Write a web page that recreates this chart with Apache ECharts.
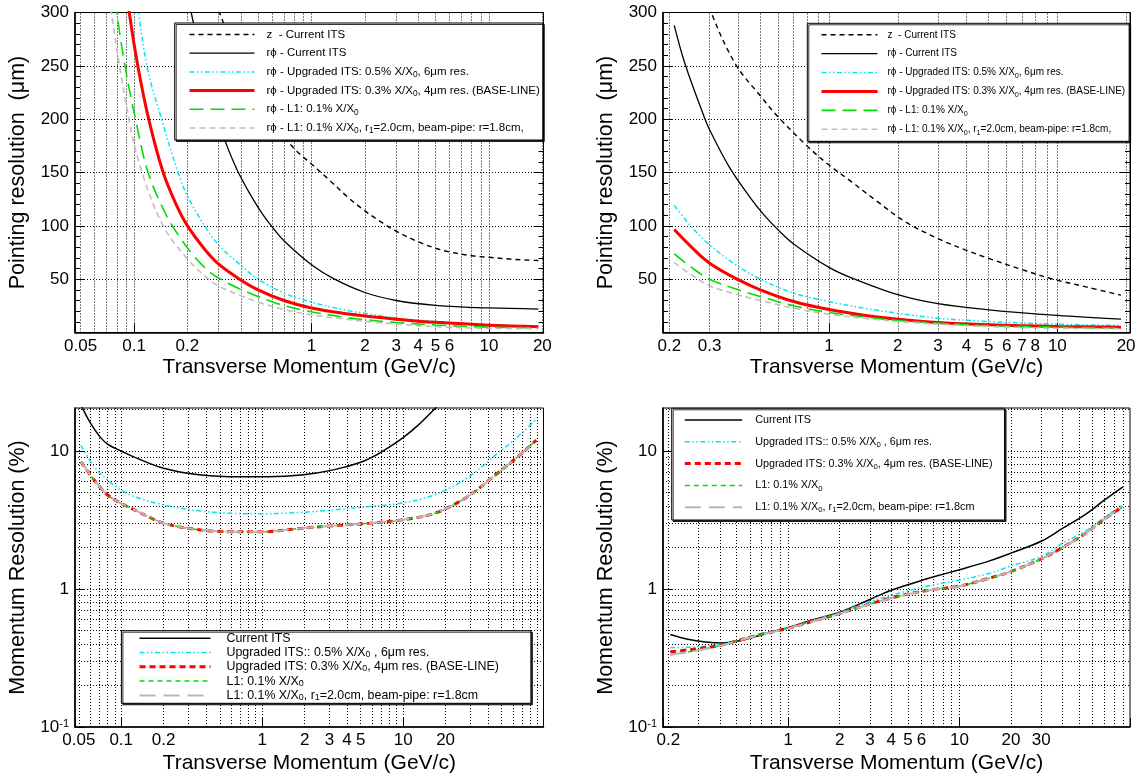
<!DOCTYPE html>
<html><head><meta charset="utf-8">
<script src="https://cdn.jsdelivr.net/npm/echarts@6.0.0/dist/echarts.min.js"></script>
<style>html,body{margin:0;padding:0;background:#fff}#c{width:1141px;height:776px}</style>
</head><body><div id="c"></div>
<script>
// ================= DATA =================
// --- Panel 1 : pointing resolution, top-left ---
const P1_X_Z     = [0.28, 0.303, 0.4, 0.5, 0.6, 0.726, 0.85, 1, 1.26, 1.6, 2, 2.5, 3, 4, 5, 6, 8, 10, 14, 19];
const P1_Y_Z     = [318, 300, 250, 219, 197, 180, 168, 158, 143, 127, 114, 103, 95, 85, 79, 75.5, 72, 70.5, 68.5, 67.5];
const P1_X_CUR   = [0.19, 0.21, 0.25, 0.318, 0.375, 0.45, 0.53, 0.6, 0.7, 1, 1.35, 2, 3, 5, 10, 19];
const P1_Y_CUR   = [345, 300, 245, 185, 155, 130, 111, 99, 86, 63.5, 50, 37.5, 30, 25.5, 23, 22];
const P1_X_UP05  = [0.1, 0.106, 0.12, 0.143, 0.177, 0.2, 0.25, 0.3, 0.4, 0.5, 0.7, 1, 1.5, 2, 3, 5, 10, 19];
const P1_Y_UP05  = [335, 300, 245, 200, 150, 128, 100, 82, 63, 50, 37, 28.5, 21.5, 18, 13.5, 10.3, 7.2, 6];
const P1_X_UP03  = [0.085, 0.094, 0.105, 0.121, 0.146, 0.175, 0.2, 0.25, 0.3, 0.393, 0.5, 0.7, 1, 1.5, 2, 3, 5, 10, 19];
const P1_Y_UP03  = [360, 300, 250, 200, 150, 118, 100, 78, 64, 50, 40, 30, 23, 18, 15.5, 12.5, 9.5, 6.8, 5.5];
const P1_X_L1    = [0.072, 0.08, 0.09, 0.102, 0.12, 0.152, 0.18, 0.219, 0.266, 0.316, 0.392, 0.487, 0.63, 0.89, 1.5, 2, 3, 5, 10, 19];
const P1_Y_L1    = [370, 300, 245, 200, 150, 110, 90, 71, 57, 49, 41, 34.5, 27.5, 21, 14.5, 12, 9.4, 7, 5, 4.4];
const P1_X_L1BP  = [0.068, 0.0746, 0.0935, 0.111, 0.146, 0.2, 0.263, 0.3, 0.4, 0.5, 0.7, 1, 1.5, 2, 3, 5, 10, 19];
const P1_Y_L1BP  = [360, 300, 200, 150, 100, 69, 50, 43.5, 34.5, 28.5, 21.5, 16.6, 12.8, 10.5, 8, 5.5, 3.9, 3.6];

// --- Panel 2 : pointing resolution, top-right ---
const P2_X_Z     = [0.28, 0.305, 0.391, 0.5, 0.593, 0.8, 1, 1.26, 1.6, 2.15, 3, 4, 5, 7, 9.4, 13.5, 19];
const P2_Y_Z     = [330, 300, 251, 222, 203, 175, 157, 141, 124, 104, 88, 77, 69.5, 59, 50.5, 42.5, 35];
const P2_X_CUR   = [0.21, 0.234, 0.283, 0.3, 0.366, 0.45, 0.52, 0.6, 0.7, 1, 1.26, 2, 3, 5, 10, 19];
const P2_Y_CUR   = [288, 252, 203, 190, 155, 127, 110, 96, 83, 61, 51, 35.5, 27, 21.3, 16, 12.5];
const P2_X       = [0.21, 0.25, 0.3, 0.4, 0.5, 0.7, 1, 1.5, 2, 3, 5, 10, 19];
const P2_Y_UP05  = [119, 99, 82, 62, 50, 37, 29, 22, 18, 13.4, 10.3, 7.8, 6.6];
const P2_Y_UP03  = [96.5, 80, 65, 49.5, 40, 29, 21.5, 15.5, 12.5, 9.4, 7.2, 5.6, 5];
const P2_Y_L1    = [73.8, 61, 50, 40, 33.8, 25, 18.8, 14, 11.3, 8.8, 6.3, 5, 4.1];
const P2_Y_L1BP  = [65.6, 54, 43.8, 35.3, 30, 22.8, 17.2, 12.8, 10.3, 7.8, 5.6, 4, 3.4];

// --- Panel 3 : momentum resolution, bottom-left ---
const P3_X_CUR   = [0.05, 0.053, 0.058, 0.064, 0.072, 0.08, 0.09, 0.1, 0.125, 0.2, 0.37, 0.7, 1.1, 1.9, 3.2, 5, 6.5, 8, 10, 12.6, 17, 20];
const P3_Y_CUR   = [23, 20.5, 17.2, 14.6, 12.4, 11.2, 10.5, 10, 9, 7.5, 6.7, 6.5, 6.5, 6.7, 7.3, 8.3, 9.4, 10.7, 12.5, 15.2, 20.5, 24];
const P3_X       = [0.0518, 0.0643, 0.08, 0.0996, 0.124, 0.202, 0.367, 0.633, 1, 1.88, 3.24, 5.6, 9.62, 16.6, 28.6, 46.7, 60, 70, 88];
const P3_Y_UP05  = [11.0, 7.7, 6.17, 5.21, 4.67, 4.06, 3.67, 3.53, 3.51, 3.59, 3.74, 3.95, 4.18, 4.8, 6.4, 9.6, 11.8, 13.6, 17];
const P3_Y_UP03  = [8.37, 6.17, 4.8, 4.18, 3.74, 2.99, 2.68, 2.6, 2.6, 2.75, 2.88, 2.99, 3.16, 3.53, 4.67, 6.9, 8.5, 9.7, 12];
const P3_Y_L1    = [8.37, 6.17, 4.8, 4.18, 3.74, 2.99, 2.68, 2.6, 2.6, 2.75, 2.88, 2.99, 3.16, 3.53, 4.67, 6.9, 8.5, 9.7, 12];
const P3_Y_L1BP  = [8.37, 6.17, 4.8, 4.18, 3.74, 2.99, 2.68, 2.6, 2.6, 2.75, 2.88, 2.99, 3.16, 3.53, 4.67, 6.9, 8.5, 9.7, 12];

// --- Panel 4 : momentum resolution, bottom-right ---
const P4_X_CUR   = [0.205, 0.26, 0.33, 0.41, 0.51, 0.64, 0.8, 1, 1.4, 2, 3, 4, 5.7, 7, 10, 15, 20, 30, 40, 55, 70, 90];
const P4_Y_CUR   = [0.468, 0.432, 0.413, 0.406, 0.42, 0.451, 0.49, 0.525, 0.6, 0.68, 0.84, 0.98, 1.13, 1.22, 1.38, 1.6, 1.82, 2.22, 2.75, 3.5, 4.4, 5.5];
const P4_X       = [0.205, 0.26, 0.3, 0.4, 0.5, 0.7, 1, 1.5, 2, 3, 4, 5, 7, 10, 15, 20, 30, 40, 55, 70, 90];
const P4_Y_UP05  = [0.376, 0.378, 0.382, 0.398, 0.425, 0.475, 0.525, 0.61, 0.68, 0.81, 0.9, 0.97, 1.07, 1.16, 1.3, 1.47, 1.72, 2.15, 2.65, 3.3, 4.1];
const P4_Y_UP03  = [0.351, 0.362, 0.37, 0.39, 0.42, 0.47, 0.52, 0.6, 0.665, 0.78, 0.86, 0.92, 0.99, 1.05, 1.2, 1.34, 1.65, 2.0, 2.55, 3.2, 3.95];
const P4_Y_L1    = [0.335, 0.35, 0.362, 0.388, 0.42, 0.47, 0.52, 0.6, 0.665, 0.78, 0.86, 0.92, 0.99, 1.05, 1.2, 1.34, 1.65, 2.0, 2.55, 3.2, 3.95];
const P4_Y_L1BP  = [0.333, 0.348, 0.36, 0.387, 0.418, 0.468, 0.518, 0.598, 0.663, 0.778, 0.858, 0.918, 0.988, 1.048, 1.198, 1.338, 1.648, 1.998, 2.548, 3.198, 3.948];

// --- tick labels ---
const P1_XTICKS = [0.05, 0.1, 0.2, 1, 2, 3, 4, 5, 6, 10, 20];
const P2_XTICKS = [0.2, 0.3, 1, 2, 3, 4, 5, 6, 7, 8, 10, 20];
const P3_XTICKS = [0.05, 0.1, 0.2, 1, 2, 3, 4, 5, 10, 20];
const P4_XTICKS = [0.2, 1, 2, 3, 4, 5, 6, 10, 20, 30];

// --- names ---
const TOP_NAMES = ['z  - Current ITS', 'rϕ - Current ITS', 'rϕ - Upgraded ITS: 0.5% X/X0, 6μm res.',
  'rϕ - Upgraded ITS: 0.3% X/X0, 4μm res. (BASE-LINE)', 'rϕ - L1: 0.1% X/X0', 'rϕ - L1: 0.1% X/X0, r1=2.0cm, beam-pipe: r=1.8cm,'];
const BOT_NAMES = ['Current ITS', 'Upgraded ITS:: 0.5% X/X0 , 6μm res.', 'Upgraded ITS: 0.3% X/X0, 4μm res. (BASE-LINE)',
  'L1: 0.1% X/X0', 'L1: 0.1% X/X0, r1=2.0cm, beam-pipe: r=1.8cm'];
const RICH = {};
RICH[TOP_NAMES[0]] = 'z  - Current ITS';
RICH[TOP_NAMES[1]] = 'rϕ - Current ITS';
RICH[TOP_NAMES[2]] = 'rϕ - Upgraded ITS: 0.5% X/X{sub|0}, 6μm res.';
RICH[TOP_NAMES[3]] = 'rϕ - Upgraded ITS: 0.3% X/X{sub|0}, 4μm res. (BASE-LINE)';
RICH[TOP_NAMES[4]] = 'rϕ - L1: 0.1% X/X{sub|0}';
RICH[TOP_NAMES[5]] = 'rϕ - L1: 0.1% X/X{sub|0}, r{sub|1}=2.0cm, beam-pipe: r=1.8cm,';
RICH[BOT_NAMES[0]] = 'Current ITS';
RICH[BOT_NAMES[1]] = 'Upgraded ITS:: 0.5% X/X{sub|0} , 6μm res.';
RICH[BOT_NAMES[2]] = 'Upgraded ITS: 0.3% X/X{sub|0}, 4μm res. (BASE-LINE)';
RICH[BOT_NAMES[3]] = 'L1: 0.1% X/X{sub|0}';
RICH[BOT_NAMES[4]] = 'L1: 0.1% X/X{sub|0}, r{sub|1}=2.0cm, beam-pipe: r=1.8cm';

// ================= STYLE / LAYOUT =================
const FONT = '"Liberation Sans", Arial, Helvetica, sans-serif';
const ST = {
  zdash: {color:'#000', width:1.4, type:[5,4]},
  black: {color:'#000', width:1.3, type:'solid'},
  cyan:  {color:'#00e6f0', width:1.5, type:[5,2.5,1.5,2.5,1.5,2.5]},
  red:   {color:'#ff0000', width:3, type:'solid'},
  green: {color:'#00dd00', width:1.6, type:[14,7]},
  grey:  {color:'#bfbfbf', width:1.6, type:[6,4]},
  bblack:{color:'#000', width:1.5, type:'solid'},
  bred:  {color:'#ff0000', width:3, type:[6,4]},
  bgreen:{color:'#00dd00', width:1.5, type:[5,4]},
  bgrey: {color:'#b8b8b8', width:2, type:[16,8]}
};
const GRIDS = [
  {left:75, top:12.5, width:468.5, height:320},
  {left:663, top:12.5, width:467, height:320},
  {left:75, top:408, width:468.5, height:319},
  {left:663, top:408, width:467, height:319}
];
const XR = [[0.0465, 20.3], [0.1875, 20.8], [0.047, 99], [0.186, 99]];

function pairs(xs, ys){ return xs.map((x,i)=>[x, ys[i]]); }
function mk(name, xs, ys, g, st){
  return {type:'line', name, xAxisIndex:g, yAxisIndex:g, data:pairs(xs, ys), symbol:'none', showSymbol:false,
    smooth:0.35, lineStyle:st, itemStyle:{color:st.color}, z:3, silent:true, clip:true, emphasis:{disabled:true}};
}
function gridSeries(g, labels, withH, dummy){
  const [xmin, xmax] = XR[g];
  const data = [];
  for (const d of [0.01, 0.1, 1, 10]) for (let k=1; k<=9; k++){
    const v = +(k*d).toPrecision(6);
    if (v > xmin*1.001 && v < xmax*0.999){
      const lab = labels.find(l => Math.abs(l - v) < 1e-9);
      if (lab !== undefined) data.push({xAxis:v, label:{show:true, position:'start', distance:5, formatter:String(lab),
        fontSize:17, color:'#000', fontFamily:FONT}});
      else data.push({xAxis:v});
    }
  }
  if (withH){
    for (const d of [0.1, 1, 10]) for (let k=1; k<=9; k++){
      const v = +(k*d).toPrecision(6);
      if (v > 0.1001 && v < 20.4) data.push({yAxis:v});
    }
  }
  return {type:'line', xAxisIndex:g, yAxisIndex:g, data:[dummy], symbol:'none', lineStyle:{opacity:0}, silent:true, z:1,
    markLine:{silent:true, z:1, symbol:['none','none'], animation:false, label:{show:false}, emphasis:{disabled:true},
      lineStyle:{color:'#000', type:[1,2], width:1}, data}};
}

const series = [
  gridSeries(0, P1_XTICKS, false, [1, 150]),
  gridSeries(1, P2_XTICKS, false, [1, 150]),
  gridSeries(2, P3_XTICKS, true, [1, 1]),
  gridSeries(3, P4_XTICKS, true, [1, 1]),
  mk(TOP_NAMES[0], P1_X_Z, P1_Y_Z, 0, ST.zdash),
  mk(TOP_NAMES[1], P1_X_CUR, P1_Y_CUR, 0, ST.black),
  mk(TOP_NAMES[2], P1_X_UP05, P1_Y_UP05, 0, ST.cyan),
  mk(TOP_NAMES[3], P1_X_UP03, P1_Y_UP03, 0, ST.red),
  mk(TOP_NAMES[4], P1_X_L1, P1_Y_L1, 0, ST.green),
  mk(TOP_NAMES[5], P1_X_L1BP, P1_Y_L1BP, 0, ST.grey),
  mk(TOP_NAMES[0], P2_X_Z, P2_Y_Z, 1, ST.zdash),
  mk(TOP_NAMES[1], P2_X_CUR, P2_Y_CUR, 1, ST.black),
  mk(TOP_NAMES[2], P2_X, P2_Y_UP05, 1, ST.cyan),
  mk(TOP_NAMES[3], P2_X, P2_Y_UP03, 1, ST.red),
  mk(TOP_NAMES[4], P2_X, P2_Y_L1, 1, ST.green),
  mk(TOP_NAMES[5], P2_X, P2_Y_L1BP, 1, ST.grey),
  mk(BOT_NAMES[0], P3_X_CUR, P3_Y_CUR, 2, ST.bblack),
  mk(BOT_NAMES[1], P3_X, P3_Y_UP05, 2, ST.cyan),
  mk(BOT_NAMES[2], P3_X, P3_Y_UP03, 2, ST.bred),
  mk(BOT_NAMES[3], P3_X, P3_Y_L1, 2, ST.bgreen),
  mk(BOT_NAMES[4], P3_X, P3_Y_L1BP, 2, ST.bgrey),
  mk(BOT_NAMES[0], P4_X_CUR, P4_Y_CUR, 3, ST.bblack),
  mk(BOT_NAMES[1], P4_X, P4_Y_UP05, 3, ST.cyan),
  mk(BOT_NAMES[2], P4_X, P4_Y_UP03, 3, ST.bred),
  mk(BOT_NAMES[3], P4_X, P4_Y_L1, 3, ST.bgreen),
  mk(BOT_NAMES[4], P4_X, P4_Y_L1BP, 3, ST.bgrey)
];

const xAxis = GRIDS.map((g, i) => ({
  type:'log', gridIndex:i, logBase:10, min:XR[i][0], max:XR[i][1],
  axisLabel:{show:false}, splitLine:{show:false},
  axisTick:{show:true, inside:true, length:9, lineStyle:{color:'#000', width:1}},
  axisLine:{show:true, onZero:false, lineStyle:{color:'#000', width:1.6}},
  name:'Transverse Momentum (GeV/c)', nameLocation:'middle', nameGap: i < 2 ? 24 : 26,
  nameTextStyle:{fontSize:21, color:'#000', fontFamily:FONT}
}));

const topY = i => ({
  type:'value', gridIndex:i, min:0, max:300, interval:50,
  axisLabel:{fontSize:17, color:'#000', margin:6, fontFamily:FONT, formatter: v => v === 0 ? '' : String(v)},
  axisTick:{show:true, inside:true, length:10, lineStyle:{color:'#000'}},
  minorTick:{show:true, splitNumber:5, length:5, lineStyle:{color:'#000'}},
  splitLine:{show:true, lineStyle:{color:'#000', type:[1,2], width:1}},
  axisLine:{show:true, onZero:false, lineStyle:{color:'#000', width:1.6}},
  name:'Pointing resolution  (μm)', nameLocation:'middle', nameRotate:90, nameGap:46,
  nameTextStyle:{fontSize:21.5, color:'#000', fontFamily:FONT}
});
const botY = i => ({
  type:'log', gridIndex:i, logBase:10, min:0.1, max:20.5,
  axisLabel:{fontSize:17, color:'#000', margin:6, fontFamily:FONT, showMaxLabel:false,
    formatter: v => { const l = Math.log10(v); if (Math.abs(l+1) < 1e-6) return '10{sup|-1}'; if (Math.abs(l) < 1e-6) return '1'; if (Math.abs(l-1) < 1e-6) return '10'; return ''; },
    rich:{sup:{fontSize:11, verticalAlign:'top', lineHeight:8, color:'#000', fontFamily:FONT}}},
  axisTick:{show:true, inside:true, length:10, lineStyle:{color:'#000'}},
  splitLine:{show:false},
  axisLine:{show:true, onZero:false, lineStyle:{color:'#000', width:1.6}},
  name:'Momentum Resolution (%)', nameLocation:'middle', nameRotate:90, nameGap:46,
  nameTextStyle:{fontSize:21.5, color:'#000', fontFamily:FONT}
});
const rightY = i => ({
  type:'value', gridIndex:i, min:0, max:300, interval:50, position:'right',
  axisLabel:{show:false}, splitLine:{show:false},
  axisTick:{show:true, inside:true, length:10, lineStyle:{color:'#000'}},
  minorTick:{show:true, splitNumber:5, length:5, lineStyle:{color:'#000'}},
  axisLine:{show:true, onZero:false, lineStyle:{color:'#000', width:1}}
});
const yAxis = [topY(0), topY(1), botY(2), botY(3), rightY(0), rightY(1)];

function legend(names, o){
  return {
    data:names, orient:'vertical', left:o.left, top:o.top, itemWidth:o.iw, itemHeight:o.ih, itemGap:o.gap,
    padding:o.pad, backgroundColor:'#fff', borderColor:'#000', borderWidth:1, z:10,
    shadowColor:'rgba(0,0,0,0.8)', shadowBlur:0, shadowOffsetX:1.5, shadowOffsetY:1.5,
    selectedMode:false,
    itemStyle:{opacity:0, borderWidth:0},
    lineStyle:{width:'inherit', opacity:1},
    formatter: n => '{g| }' + (RICH[n] || n),
    textStyle:{fontSize:o.fs, lineHeight:o.lh, color:'#000', fontFamily:FONT,
      rich:{g:{width:o.sp}, sub:{fontSize:o.fs*0.72, lineHeight:4, verticalAlign:'bottom', color:'#000', fontFamily:FONT}}}
  };
}
const legends = [
  legend(TOP_NAMES, {left:174.7, top:23, iw:65, ih:14, gap:4.7, pad:[4.5,3,5,13.3], fs:11.5, lh:14, sp:7}),
  legend(TOP_NAMES, {left:807.3, top:23.3, iw:56, ih:14, gap:4.9, pad:[4.5,4,5,12.7], fs:10, lh:14, sp:5}),
  legend(BOT_NAMES, {left:121.4, top:630.7, iw:71, ih:13, gap:1.3, pad:[1,32,1.4,16.6], fs:12.4, lh:13, sp:11}),
  legend(BOT_NAMES, {left:671.7, top:408.3, iw:57.4, ih:14, gap:7.8, pad:[4.7,12,5.8,11.6], fs:10.8, lh:14, sp:8})
];

const option = {
  animation:false,
  backgroundColor:'#fff',
  textStyle:{fontFamily:FONT, color:'#000'},
  grid: GRIDS.map(g => Object.assign({show:true, borderColor:'#000', borderWidth:1, backgroundColor:'transparent', containLabel:false, outerBoundsMode:'none'}, g)),
  xAxis, yAxis, legend:legends, series
};
const chart = echarts.init(document.getElementById('c'), null, {renderer:'canvas'});
chart.setOption(option);
</script>
</body></html>
